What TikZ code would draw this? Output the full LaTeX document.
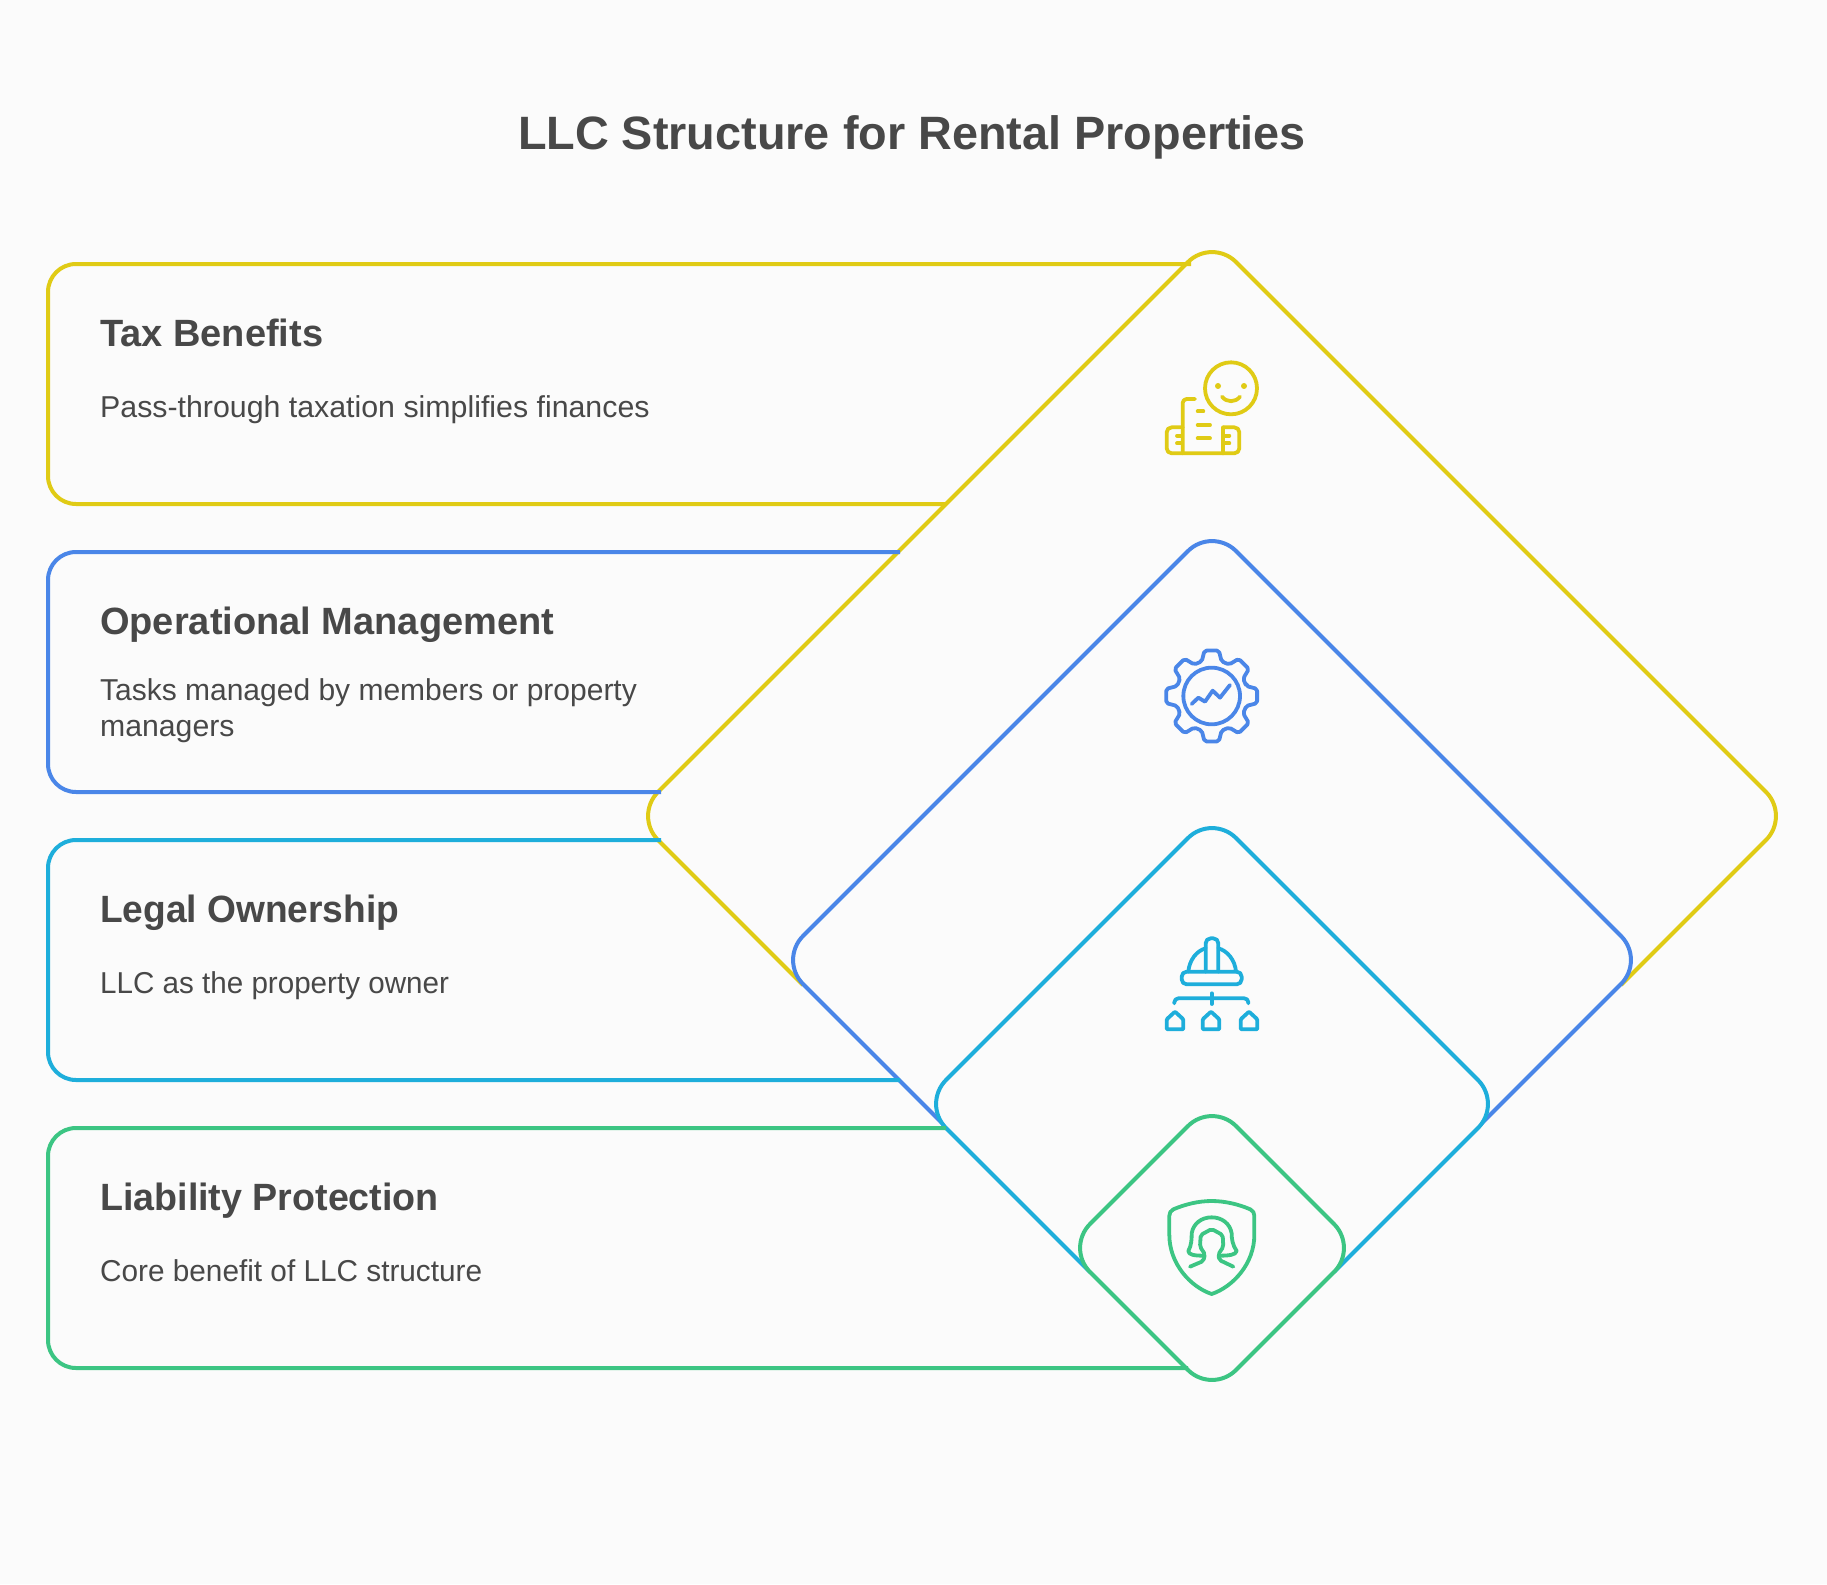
\documentclass[tikz,border=0pt]{standalone}
\usepackage{graphicx}
\usepackage{fontspec}
\setmainfont{Liberation Sans}
\definecolor{bgc}{HTML}{FBFBFB}
\definecolor{txt}{HTML}{484848}
\definecolor{cy}{HTML}{E0CB15}
\definecolor{cb}{HTML}{4A86E8}
\definecolor{cc}{HTML}{1EAEDB}
\definecolor{cg}{HTML}{3CC583}
\newcommand{\squeezed}[2]{\scalebox{#1}[1]{#2}}
\tikzset{
  x=1pt,y=-1pt,
  ln/.style={line width=4pt,line cap=butt,rounded corners=28pt},
  dia/.style={line width=4pt,line cap=butt,rounded corners=34pt},
  ic/.style={line width=3.8pt,line cap=round,line join=round},
  title/.style={font=\bfseries\fontsize{46.8}{52}\selectfont,text=txt,anchor=base},
  head/.style={font=\bfseries\fontsize{38}{44}\selectfont,text=txt,anchor=base west,inner sep=0pt},
  body/.style={font=\fontsize{30.2}{36}\selectfont,text=txt,anchor=base west,inner sep=0pt,align=left},
  zoomed/.style={x=0.3333pt,y=-0.3333pt}
}
\begin{document}
\begin{tikzpicture}
\useasboundingbox[fill=bgc] (0,0) rectangle (1827,1584);
\node[title] (t) at (912,149) {LLC Structure for Rental Properties};
% diamonds
\fill[bgc,rounded corners=34pt] (1212,238)--(1790,816)--(1212,1394)--(634,816)--cycle;
\draw[dia,draw=cy] (803,985)--(634,816)--(1212,238)--(1790,816)--(1621,985);
\fill[bgc,rounded corners=34pt] (1212,527)--(1645,960)--(1212,1393)--(779,960)--cycle;
\draw[dia,draw=cb] (947,1128)--(779,960)--(1212,527)--(1645,960)--(1477,1128);
\fill[bgc,rounded corners=34pt] (1212,814)--(1502,1104)--(1212,1394)--(922,1104)--cycle;
\draw[dia,draw=cc] (1090,1272)--(922,1104)--(1212,814)--(1502,1104)--(1334,1272);
\draw[dia,draw=cg,fill=bgc] (1212,1102)--(1358,1248)--(1212,1394)--(1066,1248)--cycle;
% cards
\draw[ln,draw=cy] (1191,264)--(48,264)--(48,504)--(946,504);
\draw[ln,draw=cb] (900,552)--(48,552)--(48,792)--(661,792);
\draw[ln,draw=cc] (661,840)--(48,840)--(48,1080)--(900,1080);
\draw[ln,draw=cg] (946,1128)--(48,1128)--(48,1368)--(1188,1368);
% text
\node[head] (h1) at (100,346) {Tax Benefits};
\node[body] (b1) at (100,417) {\squeezed{1.004}{Pass-through taxation simplifies finances}};
\node[head] (h2) at (100,634) {Operational Management};
\node[body] (b2) at (100,700) {\squeezed{0.993}{Tasks managed by members or property}};
\node[body] (b2b) at (100,736) {managers};
\node[head] (h3) at (100,922) {\squeezed{0.977}{Legal Ownership}};
\node[body] (b3) at (100,993) {\squeezed{0.98}{LLC as the property owner}};
\node[head] (h4) at (100,1210) {\squeezed{0.99}{Liability Protection}};
\node[body] (b4) at (100,1281) {\squeezed{0.985}{Core benefit of LLC structure}};
% icon 1
\begin{scope}[shift={(1130,340)},zoomed,ic,draw=cy]
\draw (303,145) circle[radius=78];
\fill[cy] (264,138) circle[radius=9] (342,138) circle[radius=9];
\draw (276,170) .. controls (290,188) and (316,188) .. (330,170);
\draw[rounded corners=4pt] (195,177)--(158,177)--(158,340);
\draw[rounded corners=5pt] (158,262)--(110,262)--(110,340)--(328,340)--(328,262)--(280,262);
\draw (280,262)--(280,340);
\draw (203,214)--(220,214) (203,255)--(240,255) (203,295)--(240,295);
\draw (141,287)--(153,287) (141,310)--(153,310) (287,287)--(298,287) (287,310)--(298,310);
\end{scope}
% icon 2
\begin{scope}[shift={(1140,630)},zoomed,ic,draw=cb]
\begin{scope}[shift={(215,198)}]
\draw[rounded corners=2pt] (-16:108) \foreach \a in {0,45,...,315}{ -- ({\a-16}:108) -- ({\a-9}:138) -- ({\a+9}:138) -- ({\a+16}:108)} -- cycle;
\draw (0,0) circle[radius=85];
\end{scope}
\draw (155,222)--(175,203)--(195,215)--(218,182)--(240,203)--(270,165);
\end{scope}
% icon 3
\begin{scope}[shift={(1140,920)},zoomed,ic,draw=cc]
\draw[rounded corners=5pt] (197,155)--(197,55)--(235,55)--(235,155);
\draw (145,155) .. controls (148,120) and (170,92) .. (197,85);
\draw (288,155) .. controls (285,120) and (262,92) .. (235,85);
\draw[rounded corners=5pt] (125,155) rectangle (305,193);
\draw[rounded corners=4pt] (103,250)--(103,235)--(325,235)--(325,250);
\draw (215,220)--(215,252);
\foreach \c in {105,213,327}{
  \draw[rounded corners=1pt] (\c,275)--(\c+25,298)--(\c+25,328)--(\c-25,328)--(\c-25,298)--cycle;
}
\end{scope}
% icon 4
\begin{scope}[shift={(1140,1185)},zoomed,ic,draw=cg]
\draw (215,48) .. controls (175,48) and (135,58) .. (100,73) .. controls (92,77) and (88,84) .. (88,92) -- (88,150) .. controls (88,235) and (150,305) .. (215,327) .. controls (280,305) and (343,235) .. (343,150) -- (343,92) .. controls (343,84) and (339,77) .. (331,73) .. controls (296,58) and (255,48) .. (215,48);
\draw (190,212) .. controls (165,212) and (145,210) .. (145,198) .. controls (155,180) and (155,160) .. (155,145) .. controls (160,115) and (185,97) .. (215,97) .. controls (245,97) and (270,115) .. (275,145) .. controls (275,160) and (277,180) .. (290,198) .. controls (288,210) and (265,212) .. (240,212);
\draw[rounded corners=2pt] (150,245)--(190,228)--(195,208)--(180,185)--(182,150)--(215,132)--(248,150)--(250,185)--(235,208)--(238,225)--(280,245);
\end{scope}
\end{tikzpicture}
\end{document}
